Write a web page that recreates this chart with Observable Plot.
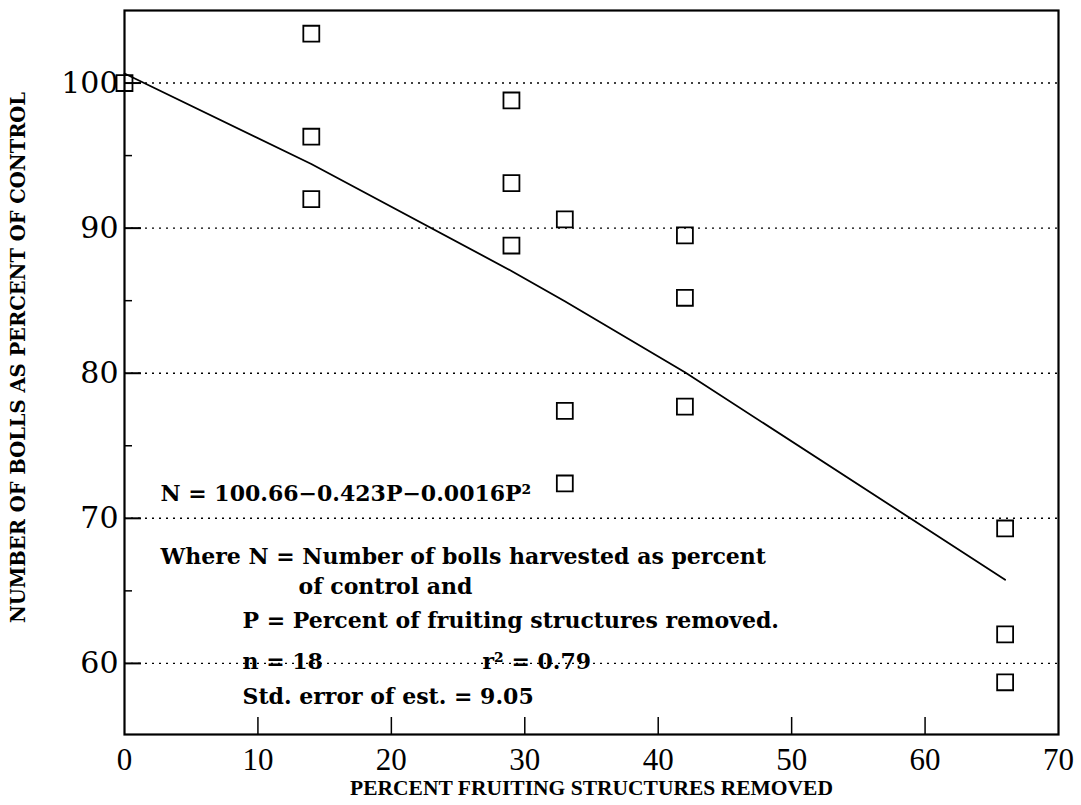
<!DOCTYPE html>
<html><head><meta charset="utf-8">
<script src="https://cdn.jsdelivr.net/npm/d3@7"></script>
<script src="https://cdn.jsdelivr.net/npm/@observablehq/plot@0.6"></script>
<style>body{margin:0;background:#fff}</style>
</head><body><div id="chart"></div>
<script>
// Observed points: percent fruiting structures removed vs bolls as % of control
const removedPct = [0, 14, 14, 14, 29, 29, 29, 33, 33, 33, 42, 42, 42, 66, 66, 66];
const bollsPct   = [100, 103.4, 96.3, 92.0, 98.8, 93.1, 88.8, 90.6, 77.4, 72.4, 89.5, 85.2, 77.7, 69.3, 62.0, 58.7];
// Fitted curve
const fitX = [0, 14, 29, 33, 42, 66];
const fitY = [100.66, 94.42, 87.05, 84.96, 80.07, 65.77];
// Ticks
const xTicks = [0, 10, 20, 30, 40, 50, 60, 70];
const xInnerTicks = [10, 20, 30, 40, 50, 60];
const yTicks = [60, 70, 80, 90, 100];
const yMinor = [65, 75, 85, 95];
// Texts
const xLabel = "PERCENT FRUITING STRUCTURES REMOVED";
const yLabel = "NUMBER OF BOLLS AS PERCENT OF CONTROL";
const eqText = "N = 100.66\u22120.423P\u22120.0016P\u00B2";
const whereText = "Where N = Number of bolls harvested as percent";
const whereText2 = "of control and";
const pText = "P = Percent of fruiting structures removed.";
const nText = "n = 18";
const r2Text = "r\u00B2 = 0.79";
const seText = "Std. error of est. = 9.05";

const points = removedPct.map((x, i) => ({x, y: bollsPct[i]}));
const fit = fitX.map((x, i) => ({x, y: fitY[i]}));

const W = 1081, H = 805, ML = 124, MR = 23, MT = 10, MB = 71;
const FW = W - ML - MR, FH = H - MT - MB;
const annot = {frameAnchor: "top-left", textAnchor: "start", fontSize: 22, fontWeight: "bold", fill: "#000"};

const chart = Plot.plot({
  width: W, height: H,
  marginLeft: ML, marginRight: MR, marginTop: MT, marginBottom: MB,
  x: {domain: [0, 70]},
  y: {domain: [55.1, 105]},
  style: {fontFamily: "DejaVu Serif", color: "#000", background: "#fff", overflow: "visible"},
  marks: [
    Plot.ruleY(yTicks, {stroke: "#000", strokeWidth: 1.4, strokeDasharray: "2,5"}),
    Plot.tickY(yTicks, {y: d => d, stroke: "#000", strokeWidth: 2, insetRight: FW - 17}),
    Plot.tickY(yMinor, {y: d => d, stroke: "#000", strokeWidth: 1.5, insetRight: FW - 8}),
    Plot.tickX(xInnerTicks, {x: d => d, stroke: "#000", strokeWidth: 1.5, insetTop: FH - 17}),
    Plot.axisY(yTicks, {tickSize: 0, tickPadding: 6, fontSize: 30, label: null}),
    Plot.axisX(xTicks, {tickSize: 0, tickPadding: 13, fontSize: 31, fontFamily: "Liberation Serif", label: null}),
    Plot.frame({stroke: "#000", strokeWidth: 2.2}),
    Plot.line(fit, {x: "x", y: "y", stroke: "#000", strokeWidth: 1.8}),
    Plot.dot(points, {x: "x", y: "y", symbol: "square", r: 9, stroke: "#000", strokeWidth: 1.8, fill: "none"}),
    Plot.text([eqText], {...annot, dx: 36, dy: 475}),
    Plot.text([whereText], {...annot, dx: 36, dy: 538}),
    Plot.text([whereText2], {...annot, dx: 174, dy: 568}),
    Plot.text([pText], {...annot, dx: 118, dy: 602}),
    Plot.text([nText], {...annot, dx: 118, dy: 643}),
    Plot.text([r2Text], {...annot, dx: 358, dy: 643}),
    Plot.text([seText], {...annot, dx: 118, dy: 678}),
    Plot.text([xLabel], {frameAnchor: "bottom", dy: 60, fontSize: 21.5, fontWeight: "bold", fontFamily: "Liberation Serif", fill: "#000"}),
    Plot.text([yLabel], {frameAnchor: "left", textAnchor: "middle", dx: -106, dy: -15, rotate: -90, fontSize: 19.5, fontWeight: "bold", fill: "#000"})
  ]
});
document.getElementById("chart").appendChild(chart);
</script>
</body></html>
